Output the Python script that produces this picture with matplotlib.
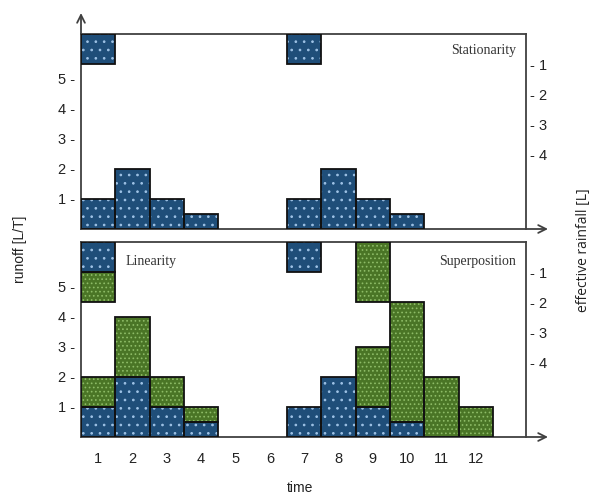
import numpy as np
import matplotlib
matplotlib.use("Agg")
import matplotlib.pyplot as plt

# ---------------- data ----------------
time = [1, 2, 3, 4, 5, 6, 7, 8, 9, 10, 11, 12]
time_labels = ["1", "2", "3", "4", "5", "6", "7", "8", "9", "10", "11", "12"]

# top panel (Stationarity)
stat_runoff = [1, 2, 1, 0.5, 0, 0, 1, 2, 1, 0.5, 0, 0]
stat_rain = [1, 0, 0, 0, 0, 0, 1, 0, 0, 0, 0, 0]

# bottom panel (Linearity + Superposition)
blue_runoff = [1, 2, 1, 0.5, 0, 0, 1, 2, 1, 0.5, 0, 0]
green_runoff = [1, 2, 1, 0.5, 0, 0, 0, 0, 2, 4, 2, 1]
blue_rain = [1, 0, 0, 0, 0, 0, 1, 0, 0, 0, 0, 0]
green_rain = [1, 0, 0, 0, 0, 0, 0, 0, 2, 0, 0, 0]

runoff_ticks = [1, 2, 3, 4, 5]
rain_ticks = [1, 2, 3, 4]

# ---------------- style ----------------
BLUE = "#1f4e79"
BLUE_DOT = "#9fc3e6"
GREEN = "#4a7526"
GREEN_DOT = "#8dbb66"
LINE = "#404040"
YMAX = 6.5
XMIN, XMAX = 0.5, 13.46

fig = plt.figure(figsize=(5.97, 4.99), dpi=100)
ax_top = fig.add_axes([81/597, (499-229)/499, 445/597, 195/499])
ax_bot = fig.add_axes([81/597, (499-437)/499, 445/597, 195/499])


def bars(ax, x, h, bottom, color, dotcolor, hatch):
    x = np.asarray(x, float)
    h = np.asarray(h, float)
    bottom = np.asarray(bottom, float)
    m = h > 0
    ax.bar(x[m], h[m], width=1.0, bottom=bottom[m], color=color,
           edgecolor="none", linewidth=0, zorder=2)
    plt.rcParams["hatch.linewidth"] = 0.7
    ax.bar(x[m], h[m], width=1.0, bottom=bottom[m], fill=False,
           hatch=hatch, edgecolor=dotcolor, linewidth=0, zorder=3)
    ax.bar(x[m], h[m], width=1.0, bottom=bottom[m], fill=False,
           edgecolor="#111111", linewidth=1.3, zorder=4)


def frame(ax, show_up_arrow):
    ax.set_xlim(XMIN, XMAX)
    ax.set_ylim(0, YMAX)
    for s in ["left", "top", "right"]:
        ax.spines[s].set_color(LINE)
        ax.spines[s].set_linewidth(1.3)
    ax.spines["bottom"].set_visible(False)
    arrow = dict(arrowstyle="->", lw=1.3, color=LINE, shrinkA=0, shrinkB=0,
                 mutation_scale=14)
    ax.annotate("", xy=(1 + 22/445, 0), xytext=(0, 0),
                xycoords="axes fraction", textcoords="axes fraction",
                arrowprops=arrow, annotation_clip=False)
    if show_up_arrow:
        ax.annotate("", xy=(0, 1 + 21/195), xytext=(0, 1),
                    xycoords="axes fraction", textcoords="axes fraction",
                    arrowprops=arrow, annotation_clip=False)
    ax.set_yticks(runoff_ticks)
    ax.set_yticklabels([f"{v} -" for v in runoff_ticks])
    ax.tick_params(axis="y", length=0, pad=4, labelsize=10.5)
    ax2 = ax.twinx()
    ax2.set_ylim(0, YMAX)
    for s in ax2.spines.values():
        s.set_visible(False)
    ax2.set_yticks([YMAX - r for r in rain_ticks])
    ax2.set_yticklabels([f"- {r}" for r in rain_ticks])
    ax2.tick_params(axis="y", length=0, pad=3, labelsize=10.5)
    return ax2


# top panel
bars(ax_top, time, stat_runoff, np.zeros(12), BLUE, BLUE_DOT, "..")
sr = np.asarray(stat_rain, float)
bars(ax_top, time, sr, YMAX - sr, BLUE, BLUE_DOT, "..")
frame(ax_top, True)
ax_top.set_xticks([])
ax_top.text(0.977, 0.915, "Stationarity", transform=ax_top.transAxes,
            ha="right", va="center", fontsize=10, family="Liberation Serif",
            color="#333333")

# bottom panel
br = np.asarray(blue_runoff, float)
gr = np.asarray(green_runoff, float)
bars(ax_bot, time, br, np.zeros(12), BLUE, BLUE_DOT, "..")
bars(ax_bot, time, gr, br, GREEN, GREEN_DOT, "....")
bn = np.asarray(blue_rain, float)
gn = np.asarray(green_rain, float)
bars(ax_bot, time, bn, YMAX - bn, BLUE, BLUE_DOT, "..")
bars(ax_bot, time, gn, YMAX - bn - gn, GREEN, GREEN_DOT, "....")
frame(ax_bot, False)
ax_bot.set_xticks(time)
ax_bot.set_xticklabels(time_labels)
ax_bot.tick_params(axis="x", length=0, pad=11, labelsize=10.5)
ax_bot.text(0.1, 0.9, "Linearity", transform=ax_bot.transAxes,
            ha="left", va="center", fontsize=10, family="Liberation Serif",
            color="#333333")
ax_bot.text(0.977, 0.9, "Superposition", transform=ax_bot.transAxes,
            ha="right", va="center", fontsize=10, family="Liberation Serif",
            color="#333333")

for a in fig.axes:
    for lab in a.get_xticklabels() + a.get_yticklabels():
        lab.set_family("Liberation Sans")
        lab.set_color("#222222")

fig.text(20/597, 1 - 249/499, "runoff [L/T]", rotation=90, ha="center",
         va="center", fontsize=10, family="Liberation Sans", color="#222222")
fig.text(583/597, 1 - 250/499, "effective rainfall [L]", rotation=90,
         ha="center", va="center", fontsize=10, family="Open Sans",
         color="#222222")
fig.text(300/597, 1 - 488/499, "time", ha="center", va="center",
         fontsize=10, family="Liberation Sans", color="#222222")

fig.savefig("out.png", dpi=100)
